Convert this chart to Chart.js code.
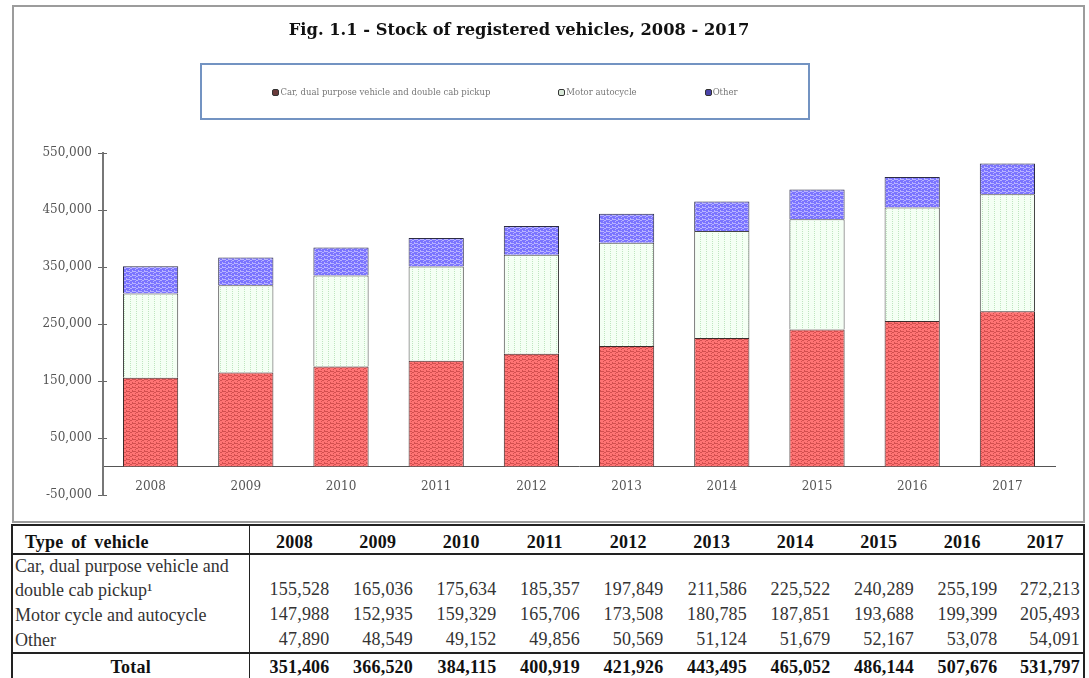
<!DOCTYPE html>
<html>
<head>
<meta charset="utf-8">
<script src="https://cdn.jsdelivr.net/npm/chart.js@4.4.1/dist/chart.umd.min.js"></script>
<style>
  body { margin: 0; width: 1089px; height: 678px; background: #fff; position: relative; overflow: hidden;
         font-family: "Liberation Serif", "Times New Roman", serif; color: #222; }
  #frame { position: absolute; left: 12px; top: 5px; width: 1069px; height: 514px; border: 2px solid #9c9c9c; }
  #title { position: absolute; left: 0; width: 1038px; top: 20px; text-align: center; font-weight: bold; font-size: 16.3px;
           font-family: "DejaVu Serif", serif; color: #111; }
  #legendBox { position: absolute; left: 200px; top: 63px; width: 606px; height: 53px; border: 2px solid #7393c2;
               display: flex; justify-content: center; align-items: center; gap: 68px; font-size: 8.5px; color: #777;
               font-family: "DejaVu Serif", serif; }
  #legendBox span.sw { display: inline-block; width: 5px; height: 5px; border: 1px solid #333; border-radius: 2px; margin-right: 1px; vertical-align: -1px; }
  #dataTable { position: absolute; left: 11px; top: 524px; width: 1074px; border-collapse: collapse; table-layout: fixed;
               border: 2px solid #222; font-size: 18px; color: #333; letter-spacing: 0.2px; }
  #dataTable td, #dataTable th { padding: 0 3px; line-height: 25px; white-space: nowrap; }
  #dataTable th { font-weight: bold; color: #111; line-height: 21px; padding-top: 6px; border-bottom: 2px solid #222; text-align: center; padding-left: 10px; }
  #dataTable th:first-child { text-align: left; padding-left: 12px; word-spacing: 3px; }
  #dataTable td { text-align: right; vertical-align: bottom; }
  #dataTable td:first-child, #dataTable th:first-child { border-right: 1px solid #222; }
  #dataTable td.lab { text-align: left; white-space: normal; line-height: 23.5px; padding-left: 2px; letter-spacing: 0; }
  #dataTable tr.total td { font-weight: bold; color: #111; border-top: 2px solid #222; line-height: 26px; }
  #dataTable tr.total td:first-child { text-align: center; }
</style>
</head>
<body>
<div id="frame"><canvas id="chart" width="1069" height="514"></canvas></div>
<div id="title">Fig. 1.1 - Stock of registered vehicles, 2008 - 2017</div>
<div id="legendBox"></div>
<table id="dataTable"></table>

<script>
const years = ['2008', '2009', '2010', '2011', '2012', '2013', '2014', '2015', '2016', '2017'];
const carValues = [155528, 165036, 175634, 185357, 197849, 211586, 225522, 240289, 255199, 272213];
const motorValues = [147988, 152935, 159329, 165706, 173508, 180785, 187851, 193688, 199399, 205493];
const otherValues = [47890, 48549, 49152, 49856, 50569, 51124, 51679, 52167, 53078, 54091];
const totalValues = [351406, 366520, 384115, 400919, 421926, 443495, 465052, 486144, 507676, 531797];

const legendLabels = ['Car, dual purpose vehicle and double cab pickup', 'Motor autocycle', 'Other'];
const tableLabels = ['Car, dual purpose vehicle and double cab pickup\u00b9', 'Motor cycle and autocycle', 'Other'];
const yTicks = [-50000, 50000, 150000, 250000, 350000, 450000, 550000];

// hatched fills like the original office chart
function makePattern(base, ink, kind) {
    const c = document.createElement('canvas');
    c.width = 6;
    c.height = 4;
    const g = c.getContext('2d');
    g.fillStyle = base;
    g.fillRect(0, 0, c.width, c.height);
    g.fillStyle = ink;
    if (kind === 'wave') {
        g.fillRect(0, 0, 2, 1);
        g.fillRect(2, 1, 2, 1);
        g.fillRect(4, 0, 2, 1);
        g.fillRect(1, 2, 1, 1);
        g.fillRect(4, 3, 1, 1);
    } else {
        g.fillRect(2, 0, 1, 1);
        g.fillRect(2, 2, 1, 1);
    }
    return g.createPattern(c, 'repeat');
}

const redFill = makePattern('#ff7474', '#d24f4f', 'wave');
const greenFill = makePattern('#f4fff4', '#bfe5bf', 'dots');
const blueFill = makePattern('#7b74ff', '#b9b4ff', 'wave');
const fills = [redFill, greenFill, blueFill];
const swatchColors = ['#6a3a3a', '#d8e8d8', '#4a44aa'];

// legend (html box)
const legendBox = document.getElementById('legendBox');
legendLabels.forEach((lab, i) => {
    const item = document.createElement('div');
    const sw = document.createElement('span');
    sw.className = 'sw';
    sw.style.background = swatchColors[i];
    item.appendChild(sw);
    item.appendChild(document.createTextNode(lab));
    legendBox.appendChild(item);
});

// data table
const fmt = v => v.toLocaleString('en-US');
const table = document.getElementById('dataTable');
let html = '<colgroup><col style="width:237px">' + years.map(() => '<col>').join('') + '</colgroup>';
html += '<tr><th>Type of vehicle</th>' + years.map(y => '<th>' + y + '</th>').join('') + '</tr>';
[carValues, motorValues, otherValues].forEach((vals, i) => {
    html += '<tr><td class="lab">' + tableLabels[i] + '</td>' + vals.map(v => '<td>' + fmt(v) + '</td>').join('') + '</tr>';
});
html += '<tr class="total"><td>Total</td>' + totalValues.map(v => '<td>' + fmt(v) + '</td>').join('') + '</tr>';
table.innerHTML = html;

// small tick marks crossing the value axis
const crossTicks = {
    id: 'crossTicks',
    afterDraw(chart) {
        const y = chart.scales.y;
        const g = chart.ctx;
        g.save();
        g.strokeStyle = '#666';
        g.lineWidth = 1;
        y.ticks.forEach(t => {
            const py = Math.round(y.getPixelForValue(t.value)) + 0.5;
            g.beginPath();
            g.moveTo(y.right, py);
            g.lineTo(y.right + 4, py);
            g.stroke();
        });
        g.restore();
    }
};

const ctx = document.getElementById('chart').getContext('2d');
new Chart(ctx, {
    type: 'bar',
    data: {
        labels: years,
        datasets: [
            { label: legendLabels[0], data: carValues, backgroundColor: fills[0], borderColor: '#3b2b2b', borderWidth: 1 },
            { label: legendLabels[1], data: motorValues, backgroundColor: fills[1], borderColor: '#444', borderWidth: 1 },
            { label: legendLabels[2], data: otherValues, backgroundColor: fills[2], borderColor: '#2c2c44', borderWidth: 1 }
        ]
    },
    options: {
        responsive: false,
        animation: false,
        barPercentage: 0.58,
        categoryPercentage: 1,
        layout: { padding: { top: 146, left: 14, right: 28, bottom: 26 } },
        plugins: {
            legend: { display: false },
            title: { display: false },
            tooltip: { enabled: false }
        },
        scales: {
            x: {
                stacked: true,
                position: { y: 0 },
                grid: { display: false, drawTicks: false },
                border: { display: true, color: '#555', width: 1 },
                ticks: { padding: 13, color: '#555', font: { family: 'DejaVu Serif', size: 12 } }
            },
            y: {
                stacked: true,
                min: -50000,
                max: 550000,
                afterBuildTicks: scale => { scale.ticks = yTicks.map(v => ({ value: v })); },
                afterFit: scale => { scale.width = 75; },
                grid: { drawOnChartArea: false, tickLength: 5, color: '#666' },
                border: { display: true, color: '#777', width: 2 },
                ticks: {
                    padding: 6,
                    color: '#555',
                    font: { family: 'DejaVu Serif', size: 12 },
                    callback: v => fmt(v)
                }
            }
        }
    },
    plugins: [crossTicks]
});
</script>
</body>
</html>
